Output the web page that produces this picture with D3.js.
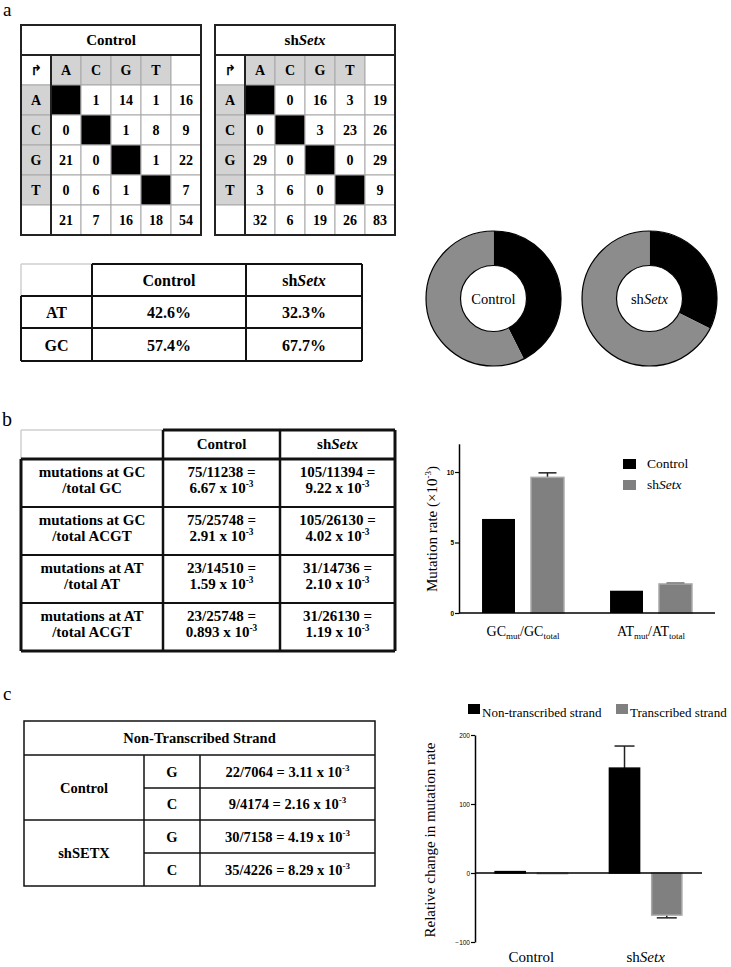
<!DOCTYPE html>
<html><head><meta charset="utf-8">
<script src="https://cdn.jsdelivr.net/npm/d3@7"></script>
<style>
html,body{margin:0;padding:0;background:#fff;}
svg{display:block;}
svg text{font-family:'Liberation Serif','DejaVu Serif','Times New Roman',Times,serif;fill:#000;}
</style></head><body>
<svg id="fig" width="731" height="967" font-family="Liberation Serif, DejaVu Serif, serif"></svg>
<script>
// ---------------- DATA ----------------
const bases = ["A","C","G","T"];
const controlMatrix = [[null,1,14,1],[0,null,1,8],[21,0,null,1],[0,6,1,null]];
const controlRowTotals = [16,9,22,7];
const controlColTotals = [21,7,16,18];
const controlTotal = 54;
const shSetxMatrix = [[null,0,16,3],[0,null,3,23],[29,0,null,0],[3,6,0,null]];
const shSetxRowTotals = [19,26,29,9];
const shSetxColTotals = [32,6,19,26];
const shSetxTotal = 83;

const sampleNames = ["Control","shSetx"];
const compositionRows = ["AT","GC"];
const compositionControl = [42.6, 57.4];
const compositionShSetx = [32.3, 67.7];

const rateRowLabels = [["mutations at GC","/total GC"],["mutations at GC","/total ACGT"],["mutations at AT","/total AT"],["mutations at AT","/total ACGT"]];
const rateControl = [["75/11238 =","6.67"],["75/25748 =","2.91"],["23/14510 =","1.59"],["23/25748 =","0.893"]];
const rateShSetx = [["105/11394 =","9.22"],["105/26130 =","4.02"],["31/14736 =","2.10"],["31/26130 =","1.19"]];

const rateGroups = ["GC","AT"];
const rateBarControl = [6.67, 1.58];
const rateBarShSetx = [9.62, 2.06];
const rateErrControl = [0, 0];
const rateErrShSetx = [0.32, 0.05];
const rateTicks = [0,5,10];

const strandSamples = ["Control","shSETX"];
const strandBases = ["G","C"];
const strandValues = [["22/7064","3.11"],["9/4174","2.16"],["30/7158","4.19"],["35/4226","8.29"]];

const strandGroups = ["Control","shSetx"];
const strandSeries = ["Non-transcribed strand","Transcribed strand"];
const changeNonTranscribed = [2, 152];
const changeTranscribed = [-1, -61];
const errNonTranscribed = [0, 32];
const errTranscribed = [0, 4];
const changeTicks = [-100,0,100,200];

// ---------------- HELPERS ----------------
const SERIF = "'Liberation Serif','DejaVu Serif','Times New Roman',serif";
const svg = d3.select("#fig");
const GRAY = "#808080";
const LIGHT = "#d3d3d3";

function label(sel, txt) {
  if (txt === "shSetx") {
    sel.append("tspan").text("sh");
    sel.append("tspan").attr("font-style","italic").text("Setx");
  } else sel.text(txt);
  return sel;
}
function txt(g, x, y, s, size, bold, anchor) {
  const t = g.append("text").attr("x",x).attr("y",y)
    .style("font-family",SERIF)
    .attr("font-size",size).attr("font-weight",bold?"bold":"normal")
    .attr("text-anchor",anchor||"middle");
  label(t, s);
  return t;
}
function sci(g, x, y, prefix, mant, size) {
  const t = g.append("text").attr("x",x).attr("y",y).attr("font-size",size)
    .style("font-family",SERIF)
    .attr("font-weight","bold").attr("text-anchor","middle");
  t.append("tspan").text(prefix + mant + " x 10");
  t.append("tspan").attr("font-size",size*0.62).attr("dy",-6).text("-3");
  return t;
}
function line(g, x1, y1, x2, y2, color, w) {
  g.append("line").attr("x1",x1).attr("y1",y1).attr("x2",x2).attr("y2",y2)
    .attr("stroke",color).attr("stroke-width",w);
}

// ---------------- PANEL LABELS ----------------
txt(svg, 3, 16, "a", 19, false, "start");
txt(svg, 2, 426, "b", 20, false, "start");
txt(svg, 3, 700, "c", 19, false, "start");

// ---------------- PANEL a : matrices ----------------
function drawMatrix(x0, title, m, rowT, colT, tot) {
  const g = svg.append("g");
  const idx = d3.range(6);
  const xs = d3.scaleBand().domain(idx).range([x0, x0+180]);
  const ys = d3.scaleBand().domain(idx).range([55, 235]);
  txt(g, x0+90, 45, title, 15, true);
  idx.forEach(r => idx.forEach(c => {
    let fill = "#fff", t = "";
    if (r === 0 && c >= 1 && c <= 4) { fill = LIGHT; t = bases[c-1]; }
    else if (c === 0 && r >= 1 && r <= 4) { fill = LIGHT; t = bases[r-1]; }
    else if (r >= 1 && r <= 4 && c >= 1 && c <= 4) {
      if (r === c) fill = "#000"; else t = m[r-1][c-1];
    }
    else if (r >= 1 && r <= 4 && c === 5) t = rowT[r-1];
    else if (r === 5 && c >= 1 && c <= 4) t = colT[c-1];
    else if (r === 5 && c === 5) t = tot;
    g.append("rect").attr("x",xs(c)).attr("y",ys(r)).attr("width",xs.bandwidth()).attr("height",ys.bandwidth())
      .attr("fill",fill).attr("stroke","#a8a8a8").attr("stroke-width",1);
    if (t !== "") txt(g, xs(c)+15, ys(r)+20, String(t), 14, true);
    if (r === 0 && c === 0) {
      g.append("text").attr("x",xs(c)+15).attr("y",ys(r)+20).attr("text-anchor","middle")
        .attr("font-size",14).attr("font-weight","bold").style("font-family","DejaVu Sans").text("↱");
    }
  }));
  line(g, x0, 55, x0+180, 55, "#222", 2);
  line(g, x0+30, 55, x0+30, 235, "#222", 2);
  g.append("rect").attr("x",x0).attr("y",25).attr("width",180).attr("height",210)
    .attr("fill","none").attr("stroke","#222").attr("stroke-width",2);
}
drawMatrix(21, "Control", controlMatrix, controlRowTotals, controlColTotals, controlTotal);
drawMatrix(215, "shSetx", shSetxMatrix, shSetxRowTotals, shSetxColTotals, shSetxTotal);

// composition table
(function(){
  const g = svg.append("g");
  const xe = [21, 92, 246, 362], ye = [264, 296, 328, 361];
  line(g, 21, 264, 92, 264, "#cfcfcf", 1.5);
  line(g, 21, 264, 21, 296, "#cfcfcf", 1.5);
  line(g, 92, 264, 362, 264, "#111", 2);
  ye.slice(1).forEach(y => line(g, 21, y, 362, y, "#111", 2));
  line(g, 21, 296, 21, 361, "#111", 2);
  xe.slice(1).forEach(x => line(g, x, 264, x, 361, "#111", 2));
  sampleNames.forEach((s,i) => txt(g, (xe[i+1]+xe[i+2])/2, (ye[0]+ye[1])/2+6, s, 16, true));
  compositionRows.forEach((r,i) => {
    const yc = (ye[i+1]+ye[i+2])/2 + 6;
    txt(g, (xe[0]+xe[1])/2, yc, r, 16, true);
    txt(g, (xe[1]+xe[2])/2, yc, compositionControl[i].toFixed(1)+"%", 16, true);
    txt(g, (xe[2]+xe[3])/2, yc, compositionShSetx[i].toFixed(1)+"%", 16, true);
  });
})();

// donuts
function donut(cx, cy, vals, name) {
  const g = svg.append("g").attr("transform",`translate(${cx},${cy})`);
  const pie = d3.pie().sort(null).value(d => d)(vals);
  const arc = d3.arc().innerRadius(33).outerRadius(67.5);
  g.selectAll("path").data(pie).join("path").attr("d",arc)
    .attr("fill",(d,i) => i === 0 ? "#000" : "#8c8c8c");
  g.append("circle").attr("r",67.5).attr("fill","none").attr("stroke","#000").attr("stroke-width",1.2);
  g.append("circle").attr("r",33).attr("fill","#fff").attr("stroke","#000").attr("stroke-width",1.2);
  txt(g, 0, 5, name, 14.5, false);
}
donut(493.5, 298.5, [compositionControl[0], compositionControl[1]], sampleNames[0]);
donut(649.5, 298.5, [compositionShSetx[0], compositionShSetx[1]], sampleNames[1]);

// ---------------- PANEL b : table ----------------
(function(){
  const g = svg.append("g");
  const xe = [21, 163, 280, 395], ye = [430, 459, 507, 555, 603, 651];
  line(g, 21, 430, 163, 430, "#cfcfcf", 1.5);
  line(g, 21, 430, 21, 459, "#cfcfcf", 1.5);
  line(g, 163, 430, 395, 430, "#111", 3);
  ye.slice(1).forEach((y,i) => line(g, 21, y, 395, y, "#111", (i===0||i===4)?3:2));
  line(g, 21, 459, 21, 651, "#111", 3);
  xe.slice(1).forEach((x,i) => line(g, x, 430, x, 651, "#111", i===2?3:2.5));
  sampleNames.forEach((s,i) => txt(g, (xe[i+1]+xe[i+2])/2, 449, s, 15, true));
  rateRowLabels.forEach((rl,i) => {
    const y0 = ye[i+1];
    txt(g, (xe[0]+xe[1])/2, y0+18, rl[0], 15, true);
    txt(g, (xe[0]+xe[1])/2, y0+34, rl[1], 15, true);
    txt(g, (xe[1]+xe[2])/2, y0+18, rateControl[i][0], 15, true);
    sci(g, (xe[1]+xe[2])/2, y0+34, "", rateControl[i][1], 15);
    txt(g, (xe[2]+xe[3])/2, y0+18, rateShSetx[i][0], 15, true);
    sci(g, (xe[2]+xe[3])/2, y0+34, "", rateShSetx[i][1], 15);
  });
})();

// ---------------- PANEL b : bar chart ----------------
(function(){
  const g = svg.append("g");
  const y = d3.scaleLinear().domain([0,12]).range([613, 443.8]);
  const x = d3.scaleBand().domain(rateGroups).range([459,715]).paddingInner(0.36).paddingOuter(0.18);
  const xi = d3.scaleBand().domain(sampleNames).range([0, x.bandwidth()]).paddingInner(0.327);
  const data = [];
  rateGroups.forEach((grp,i) => {
    data.push({grp, s:"Control", v:rateBarControl[i], e:rateErrControl[i]});
    data.push({grp, s:"shSetx", v:rateBarShSetx[i], e:rateErrShSetx[i]});
  });
  data.forEach(d => {
    const bx = x(d.grp) + xi(d.s), bw = xi.bandwidth(), cx = bx + bw/2;
    if (d.e > 0) {
      line(g, cx, y(d.v), cx, y(d.v + d.e), "#222", 1.5);
      line(g, cx-9, y(d.v + d.e), cx+9, y(d.v + d.e), "#222", 1.5);
    }
    g.append("rect").attr("x",bx).attr("y",y(d.v)).attr("width",bw).attr("height",y(0)-y(d.v))
      .attr("fill", d.s === "Control" ? "#000" : GRAY)
      .attr("stroke", d.s === "Control" ? "none" : "#a8a8a8").attr("stroke-width",1.5);
  });
  const ax = g.append("g").attr("transform","translate(459,0)")
    .call(d3.axisLeft(y).tickValues(rateTicks).tickSize(4).tickSizeOuter(0));
  ax.select(".domain").attr("stroke","#000").attr("stroke-width",1.5);
  ax.selectAll(".tick line").attr("stroke","#000").attr("stroke-width",1.2);
  ax.selectAll(".tick text").attr("font-size",6.5).attr("font-weight","bold")
    .style("font-family","'Liberation Sans', Arial, sans-serif").attr("x",-5);
  line(g, 459, 613, 715, 613, "#000", 1.5);
  // y label
  const yl = g.append("text").attr("transform","translate(437,529) rotate(-90)")
    .style("font-family",SERIF)
    .attr("text-anchor","middle").attr("font-size",15);
  yl.append("tspan").text("Mutation rate (×10");
  yl.append("tspan").attr("font-size",9).attr("dy",-6).text("-3");
  yl.append("tspan").attr("dy",6).text(")");
  // x labels
  rateGroups.forEach(grp => {
    const t = g.append("text").attr("x", x(grp) + x.bandwidth()/2).attr("y",636)
      .style("font-family",SERIF)
      .attr("text-anchor","middle").attr("font-size",14);
    t.append("tspan").text(grp);
    t.append("tspan").attr("font-size",9).attr("dy",3).text("mut");
    t.append("tspan").attr("dy",-3).text("/" + grp);
    t.append("tspan").attr("font-size",9).attr("dy",3).text("total");
  });
  // legend
  sampleNames.forEach((s,i) => {
    g.append("rect").attr("x",623).attr("y",459 + i*21).attr("width",13).attr("height",10)
      .attr("fill", i === 0 ? "#000" : GRAY);
    txt(g, 647, 468 + i*21, s, 13.5, false, "start");
  });
})();

// ---------------- PANEL c : table ----------------
(function(){
  const g = svg.append("g");
  const xe = [24, 144, 200, 375], ye = [721, 755, 788, 820, 853, 886];
  g.append("rect").attr("x",24).attr("y",721).attr("width",351).attr("height",165)
    .attr("fill","none").attr("stroke","#111").attr("stroke-width",1.5);
  line(g, 24, 755, 375, 755, "#111", 1.5);
  line(g, 24, 820, 375, 820, "#111", 1.5);
  line(g, 144, 788, 375, 788, "#111", 1.5);
  line(g, 144, 853, 375, 853, "#111", 1.5);
  line(g, 144, 755, 144, 886, "#111", 1.5);
  line(g, 200, 755, 200, 886, "#111", 1.5);
  txt(g, 199.5, 743, "Non-Transcribed Strand", 14.5, true);
  strandSamples.forEach((s,i) => txt(g, 84, ye[2+i*2] + 5, s, 14.5, true));
  strandValues.forEach((v,i) => {
    const yc = (ye[i+1] + ye[i+2]) / 2 + 5;
    txt(g, 172, yc, strandBases[i % 2], 14.5, true);
    sci(g, 287.5, yc, v[0] + " = ", v[1], 14.5);
  });
})();

// ---------------- PANEL c : bar chart ----------------
(function(){
  const g = svg.append("g");
  const y = d3.scaleLinear().domain([-100,200]).range([942,735]);
  const x = d3.scaleBand().domain(strandGroups).range([475,702]).paddingInner(0.366).paddingOuter(0.176);
  const xi = d3.scaleBand().domain(strandSeries).range([0, x.bandwidth()]).paddingInner(0.286);
  const data = [];
  strandGroups.forEach((grp,i) => {
    data.push({grp, s:strandSeries[0], v:changeNonTranscribed[i], e:errNonTranscribed[i]});
    data.push({grp, s:strandSeries[1], v:changeTranscribed[i], e:errTranscribed[i]});
  });
  data.forEach(d => {
    const bx = x(d.grp) + xi(d.s), bw = xi.bandwidth(), cx = bx + bw/2;
    const dir = d.v >= 0 ? 1 : -1;
    if (d.e > 0) {
      const ye = y(d.v + dir*d.e);
      line(g, cx, y(d.v), cx, ye, "#222", 1.5);
      line(g, cx-10, ye, cx+10, ye, "#222", 1.5);
    }
    const top = y(Math.max(0, d.v)), h = Math.abs(y(d.v) - y(0));
    const isNT = d.s === strandSeries[0];
    g.append("rect").attr("x",bx).attr("y",top).attr("width",bw).attr("height",h)
      .attr("fill", isNT ? "#000" : GRAY)
      .attr("stroke", isNT ? "#000" : "#a8a8a8").attr("stroke-width",1.5);
  });
  const ax = g.append("g").attr("transform","translate(475,0)")
    .call(d3.axisLeft(y).tickValues(changeTicks).tickSize(4).tickSizeOuter(0));
  ax.select(".domain").attr("stroke","#000").attr("stroke-width",1.5);
  ax.selectAll(".tick line").attr("stroke","#000").attr("stroke-width",1.2);
  ax.selectAll(".tick text").attr("font-size",6.5)
    .style("font-family","'Liberation Sans', Arial, sans-serif").attr("x",-5);
  line(g, 475, y(0), 702, y(0), "#000", 1.5);
  // y label
  g.append("text").attr("transform","translate(435,840) rotate(-90)")
    .style("font-family",SERIF)
    .attr("text-anchor","middle").attr("font-size",15).text("Relative change in mutation rate");
  // x labels
  strandGroups.forEach(grp => txt(g, x(grp) + x.bandwidth()/2, 962, grp, 15, false));
  // legend
  const lx = [468, 616];
  strandSeries.forEach((s,i) => {
    g.append("rect").attr("x",lx[i]).attr("y",704).attr("width",12).attr("height",10)
      .attr("fill", i === 0 ? "#000" : GRAY);
    txt(g, lx[i] + 14, 717, s, 13, false, "start");
  });
})();
</script>
</body></html>
